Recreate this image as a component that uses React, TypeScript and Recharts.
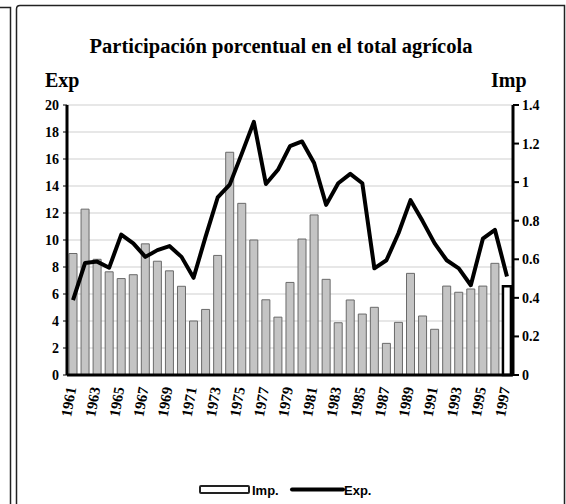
import React from 'react';
import { ComposedChart, Bar, Line, XAxis, YAxis, CartesianGrid, Cell } from 'recharts';

const years = [
  '1961', '1962', '1963', '1964', '1965', '1966', '1967', '1968', '1969', '1970',
  '1971', '1972', '1973', '1974', '1975', '1976', '1977', '1978', '1979', '1980',
  '1981', '1982', '1983', '1984', '1985', '1986', '1987', '1988', '1989', '1990',
  '1991', '1992', '1993', '1994', '1995', '1996', '1997',
];

// Imp. (bars, right axis)
const impValues = [
  0.63, 0.86, 0.6, 0.535, 0.5, 0.52, 0.68, 0.59, 0.54, 0.46,
  0.28, 0.34, 0.62, 1.155, 0.89, 0.7, 0.39, 0.3, 0.48, 0.705,
  0.83, 0.496, 0.271, 0.389, 0.316, 0.351, 0.164, 0.273, 0.527, 0.306,
  0.237, 0.461, 0.429, 0.446, 0.461, 0.579, 0.46,
];

// Exp. (line, left axis)
const expValues = [
  5.55, 8.3, 8.4, 7.95, 10.4, 9.75, 8.75, 9.25, 9.55, 8.75,
  7.2, 10.25, 13.15, 14.1, 16.4, 18.75, 14.15, 15.2, 16.95, 17.3,
  15.7, 12.6, 14.2, 14.9, 14.2, 7.9, 8.5, 10.5, 12.95, 11.4,
  9.75, 8.5, 7.9, 6.65, 10.1, 10.75, 7.3,
];

const expTicks = [0, 2, 4, 6, 8, 10, 12, 14, 16, 18, 20];
const impTicks = [0, 0.2, 0.4, 0.6, 0.8, 1, 1.2, 1.4];

const data = years.map((year, i) => ({ year, imp: impValues[i], exp: expValues[i] }));

const serif = '"Liberation Serif", "Times New Roman", serif';
const sansNarrow = '"Liberation Sans Narrow", "Liberation Sans", sans-serif';
const tickStyle = { fontFamily: serif, fontWeight: 700, fontSize: 14, fill: '#000' };

const YearTick = (props: any) => {
  const { x, y, payload } = props;
  return (
    <g transform={`translate(${x - 2},${y + 4})`}>
      <text transform="rotate(-80)" textAnchor="end" dy="0.35em" style={{ ...tickStyle, fontSize: 15 }}>
        {payload.value}
      </text>
    </g>
  );
};

const App = () => {
  const last = data.length - 1;
  return (
    <div style={{ position: 'absolute', left: 0, top: 0, width: 566, height: 504, background: '#fff' }}>
      <ComposedChart
        width={566}
        height={504}
        data={data}
        margin={{ top: 105, right: 0, bottom: 69, left: 0 }}
      >
        <CartesianGrid yAxisId="left" vertical={false} stroke="#cfcfcf" />
        <XAxis
          dataKey="year"
          interval={1}
          height={60}
          tickLine={false}
          axisLine={{ stroke: '#000', strokeWidth: 3 }}
          tick={(p: any) => <YearTick {...p} />}
        />
        <YAxis
          yAxisId="left"
          domain={[0, 20]}
          ticks={expTicks}
          width={67}
          tickSize={4}
          tickMargin={4}
          axisLine={{ stroke: '#000', strokeWidth: 3 }}
          tickLine={{ stroke: '#000' }}
          tick={tickStyle}
        />
        <YAxis
          yAxisId="right"
          orientation="right"
          domain={[0, 1.4]}
          ticks={impTicks}
          width={53}
          tickSize={6}
          tickMargin={3}
          axisLine={{ stroke: '#000', strokeWidth: 3 }}
          tickLine={{ stroke: '#000', strokeWidth: 2 }}
          tick={tickStyle}
        />
        <Bar yAxisId="right" dataKey="imp" barSize={8} fill="#c4c4c4" stroke="#6a6a6a" strokeWidth={1} isAnimationActive={false}>
          {data.map((d, i) => (
            <Cell
              key={d.year}
              fill={i === last ? '#fff' : '#c4c4c4'}
              stroke={i === last ? '#000' : '#6a6a6a'}
              strokeWidth={i === last ? 2.5 : 1}
            />
          ))}
        </Bar>
        <Line
          yAxisId="left"
          type="linear"
          dataKey="exp"
          stroke="#000"
          strokeWidth={4}
          strokeLinejoin="round"
          dot={false}
          isAnimationActive={false}
        />
      </ComposedChart>
      <svg width={566} height={504} style={{ position: 'absolute', left: 0, top: 0, pointerEvents: 'none' }}>
        <path d="M0 7.5 H10.5 V504" fill="none" stroke="#222" strokeWidth={1.5} />
        <path d="M16.5 504 V9 Q16.5 5.5 20 5.5 H564.5 V504" fill="none" stroke="#222" strokeWidth={1.5} />
        <text x={281} y={53} textAnchor="middle" style={{ fontFamily: serif, fontWeight: 700, fontSize: 20.5 }}>
          Participación porcentual en el total agrícola
        </text>
        <text x={45} y={87} style={{ fontFamily: serif, fontWeight: 700, fontSize: 20 }}>Exp</text>
        <text x={491} y={87} style={{ fontFamily: serif, fontWeight: 700, fontSize: 20 }}>Imp</text>
        <rect x={200} y={486} width={49} height={7} fill="#fff" stroke="#222" strokeWidth={2} rx={1} />
        <text x={252} y={495} style={{ fontFamily: sansNarrow, fontWeight: 700, fontSize: 13 }}>Imp.</text>
        <line x1={292} y1={489.5} x2={343} y2={489.5} stroke="#000" strokeWidth={4} strokeLinecap="round" />
        <text x={344} y={495} style={{ fontFamily: sansNarrow, fontWeight: 700, fontSize: 13 }}>Exp.</text>
      </svg>
    </div>
  );
};

export default App;
